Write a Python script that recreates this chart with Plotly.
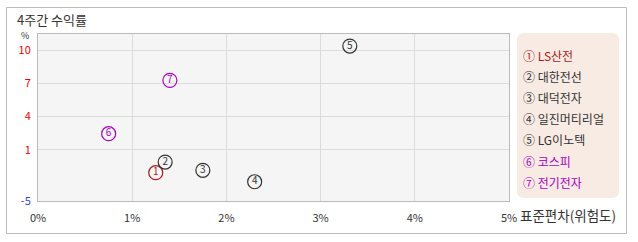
import plotly.graph_objects as go

# ---- data ----
names = ["LS산전", "대한전선", "대덕전자", "일진머티리얼", "LG이노텍", "코스피", "전기전자"]
marks = ["①", "②", "③", "④", "⑤", "⑥", "⑦"]
digits = ["1", "2", "3", "4", "5", "6", "7"]
risk = [1.25, 1.35, 1.75, 2.30, 3.31, 0.75, 1.40]        # 표준편차 (%)
ret4w = [-1.08, -0.12, -0.87, -1.90, 10.36, 2.44, 7.26]   # 4주간 수익률 (%)
colors = ["#b01818", "#333333", "#333333", "#333333", "#333333", "#a800c0", "#a800c0"]

x_ticks = [0, 1, 2, 3, 4, 5]
x_tick_labels = ["0%", "1%", "2%", "3%", "4%", "5%"]
y_ticks = [-3.64, 1, 4, 7, 10]
y_tick_labels = ["-5", "1", "4", "7", "10"]
y_tick_colors = ["#3344ee", "#ee0000", "#ee0000", "#ee0000", "#ee0000"]
y_range = [-3.64, 11.45]
x_range = [0, 5]

W, H = 638, 242
L, R, T, B = 38, 129, 34, 41
PW, PH = W - L - R, H - T - B

def px(x):
    return (x - L) / PW

def py(y):
    return 1 - (y - T) / PH

FONT = "Noto Sans CJK KR, sans-serif"

fig = go.Figure()
for i in range(len(names)):
    fig.add_trace(go.Scatter(
        x=[risk[i]], y=[ret4w[i]], mode="markers+text",
        text=[digits[i]], textposition="middle center",
        textfont=dict(family=FONT, size=10, color=colors[i]),
        marker=dict(symbol="circle-open", size=14, color=colors[i], line=dict(width=1.2, color=colors[i])),
        showlegend=False, cliponaxis=False, hoverinfo="skip",
    ))

fig.update_layout(
    width=W, height=H,
    margin=dict(l=L, r=R, t=T, b=B),
    paper_bgcolor="white",
    plot_bgcolor="#f5f5f5",
    font=dict(family=FONT, size=11, color="#333333"),
    xaxis=dict(range=x_range, tickvals=x_ticks, ticktext=x_tick_labels,
               showgrid=True, gridcolor="#dcdcdc", gridwidth=1, zeroline=False,
               showline=True, linecolor="#bbbbbb", mirror=True, ticks="",
               tickfont=dict(size=11, color="#333333"), ticklabelstandoff=7),
    yaxis=dict(range=y_range, tickvals=y_ticks,
               ticktext=[f"<span style='color:{c}'>{t}</span>" for t, c in zip(y_tick_labels, y_tick_colors)],
               showgrid=True, gridcolor="#dcdcdc", gridwidth=1, zeroline=False,
               showline=True, linecolor="#bbbbbb", mirror=True, ticks="",
               tickfont=dict(size=11), ticklabelstandoff=4),
)

shapes = []
# outer frame
shapes.append(dict(type="rect", xref="paper", yref="paper",
                   x0=px(6.5), x1=px(626.5), y0=py(233.5), y1=py(7.5),
                   line=dict(color="#bbbbbb", width=1), fillcolor="rgba(0,0,0,0)", layer="below"))
# legend box (rounded)
lx0, lx1, ly0, ly1, r = 517, 619, 33, 198, 7
rx, ry = r / PW, r / PH
X0, X1, Y0, Y1 = px(lx0), px(lx1), py(ly1), py(ly0)
path = (f"M {X0+rx},{Y1} L {X1-rx},{Y1} Q {X1},{Y1} {X1},{Y1-ry} "
        f"L {X1},{Y0+ry} Q {X1},{Y0} {X1-rx},{Y0} L {X0+rx},{Y0} "
        f"Q {X0},{Y0} {X0},{Y0+ry} L {X0},{Y1-ry} Q {X0},{Y1} {X0+rx},{Y1} Z")
shapes.append(dict(type="path", xref="paper", yref="paper", path=path,
                   fillcolor="#f7ebe4", line=dict(width=0)))
fig.update_layout(shapes=shapes)

ann = []
ann.append(dict(text="4주간 수익률", x=px(15), y=py(19), xref="paper", yref="paper",
                xanchor="left", yanchor="middle", showarrow=False,
                font=dict(size=13, color="#333333")))
ann.append(dict(text="%", x=px(25), y=py(35), xref="paper", yref="paper",
                xanchor="center", yanchor="middle", showarrow=False,
                font=dict(size=9, color="#333333")))
ann.append(dict(text="표준편차(위험도)", x=px(518), y=py(215), xref="paper", yref="paper",
                xanchor="left", yanchor="middle", showarrow=False,
                font=dict(size=13.5, color="#333333")))
for i in range(len(names)):
    ann.append(dict(text=marks[i] + " " + names[i], x=px(521), y=py(55 + i * 21.2),
                    xref="paper", yref="paper", xanchor="left", yanchor="middle",
                    showarrow=False, font=dict(size=12, color=colors[i])))
fig.update_layout(annotations=ann)

fig.write_html("out.html")
